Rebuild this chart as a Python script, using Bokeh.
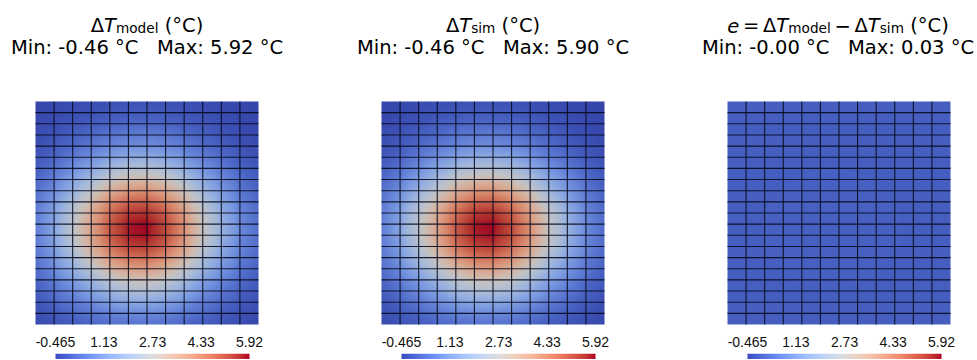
import numpy as np
from bokeh.plotting import figure
from bokeh.models import Range1d, LinearColorMapper, LinearAxis, FixedTicker
from bokeh.layouts import row, column
from bokeh.embed import file_html
from bokeh.resources import INLINE
from bokeh.core.properties import value

# ---------------- data ----------------
n_cols = 12
n_rows = 20
# normalised temperature rise at the mesh nodes, left -> right and bottom -> top
col_profile = [0.16, 0.29, 0.47, 0.67, 0.86, 0.98, 1.00, 0.90, 0.72, 0.52, 0.34, 0.20, 0.11]
row_profile = [0.13, 0.20, 0.30, 0.42, 0.55, 0.69, 0.82, 0.93, 0.99, 1.00, 0.95,
               0.85, 0.72, 0.58, 0.44, 0.32, 0.22, 0.15, 0.10, 0.06, 0.04]
model_min, model_max = -0.46, 5.92
sim_min, sim_max = -0.46, 5.90
err_min, err_max = -0.00, 0.03
cbar_low, cbar_high = -0.465, 5.92
cbar_ticks = [-0.465, 1.13, 2.73, 4.33, 5.92]
cbar_labels = ["-0.465", "1.13", "2.73", "4.33", "5.92"]

title_pieces = [
    [("Δ", "n"), ("T", "i"), ("model", "s"), (0.318, "g"), ("(°C)", "n")],
    [("Δ", "n"), ("T", "i"), ("sim", "s"), (0.318, "g"), ("(°C)", "n")],
    [("e", "i"), (0.19, "g"), ("=", "n"), (0.19, "g"), ("Δ", "n"), ("T", "i"), ("model", "s"),
     (0.19, "g"), ("−", "n"), (0.19, "g"), ("Δ", "n"), ("T", "i"), ("sim", "s"),
     (0.318, "g"), ("(°C)", "n")],
]
stats = [(model_min, model_max), (sim_min, sim_max), (err_min, err_max)]

# ---------------- fields ----------------
shape = np.outer(row_profile, col_profile)
model = model_min + (model_max - model_min) * shape
sim = sim_min + (sim_max - sim_min) * shape
err = model - sim


def shade(nodal, sx=19, sy=11):
    """Gouraud-like bilinear shading of nodal values for display."""
    nodal = np.asarray(nodal, dtype=float)
    ny, nx = nodal.shape
    u = (np.arange((nx - 1) * sx) + 0.5) / sx
    v = (np.arange((ny - 1) * sy) + 0.5) / sy
    tmp = np.array([np.interp(u, np.arange(nx), r) for r in nodal])
    out = np.array([np.interp(v, np.arange(ny), tmp[:, j]) for j in range(tmp.shape[1])]).T
    return out


# ---------------- colour map (ParaView "Cool to Warm") ----------------
COOLWARM = [
    (59, 76, 192), (68, 90, 204), (77, 104, 215), (87, 117, 225), (98, 130, 234),
    (108, 142, 241), (119, 154, 247), (130, 165, 251), (141, 176, 254), (152, 185, 255),
    (163, 194, 255), (174, 201, 253), (184, 208, 249), (194, 213, 244), (204, 217, 238),
    (213, 219, 230), (221, 221, 221), (229, 216, 209), (236, 211, 197), (241, 204, 185),
    (245, 196, 173), (247, 187, 160), (247, 177, 148), (247, 166, 135), (244, 154, 123),
    (241, 141, 111), (236, 127, 99), (229, 112, 88), (222, 96, 77), (213, 80, 66),
    (203, 62, 56), (192, 40, 47), (180, 4, 38)]


def make_palette(n=256, k=1.0):
    pts = np.linspace(0, 1, len(COOLWARM))
    arr = np.array(COOLWARM, dtype=float)
    out = []
    for t in np.linspace(0, 1, n):
        c = [min(255, max(0, int(round(np.interp(t, pts, arr[:, i]) * k)))) for i in range(3)]
        out.append("#%02x%02x%02x" % tuple(c))
    return out


heat_mapper = LinearColorMapper(palette=make_palette(256, 0.88), low=cbar_low, high=cbar_high)
bar_mapper = LinearColorMapper(palette=make_palette(256, 1.0), low=cbar_low, high=cbar_high)

# ---------------- layout constants (page pixels) ----------------
PAGE_TOP = 0
COL_EDGES = [0, 320, 666, 977]
HEAT_LEFT = [35, 381, 727]
HEAT_PX = 223
HEAT_BOTTOM = 324
FRAME_BOTTOM = 334
MAIN_H = 350
BAR_H = 9
BAR_LEFT = [55, 401, 747]
BAR_W = 194
TITLE_CX1 = [146.5, 492.5, 837.5]
TITLE_CX2 = [146.5, 492.5, 837.5]
BASE1, BASE_SUB, BASE2 = 25.0, 27.0, 46.5
FS, FS_SUB = 19.5, 13.65

EM = {' ': 0.318, '(': 0.390, ')': 0.390, '-': 0.361, '.': 0.318, ':': 0.337, '=': 0.838,
      '−': 0.838, '°': 0.500, 'C': 0.698, 'M': 0.863, 'T': 0.611, 'Δ': 0.684, 'a': 0.613,
      'd': 0.635, 'e': 0.615, 'i': 0.278, 'l': 0.278, 'm': 0.974, 'n': 0.634, 'o': 0.612,
      's': 0.521, 'x': 0.592}


def text_w(s, size):
    return sum(EM.get(ch, 0.636) for ch in s) * size


def piece_w(txt, kind):
    if kind == "g":
        return txt * FS
    return text_w(txt, FS_SUB if kind == "s" else FS)


panels = []
for k, field in enumerate([model, sim, err]):
    cl, cr = COL_EDGES[k], COL_EDGES[k + 1]
    hl = HEAT_LEFT[k]

    def dx(px, hl=hl):
        return (px - hl) / HEAT_PX

    def dy(py):
        return (HEAT_BOTTOM - py) / HEAT_PX

    p = figure(width=cr - cl, height=MAIN_H,
               x_range=Range1d(dx(cl), dx(cr)), y_range=Range1d(dy(FRAME_BOTTOM), dy(PAGE_TOP)),
               output_backend="svg", toolbar_location=None,
               x_axis_type=None, y_axis_type=None,
               min_border=0, min_border_bottom=MAIN_H - (FRAME_BOTTOM - PAGE_TOP))
    p.outline_line_color = None
    p.background_fill_color = "white"
    p.border_fill_color = "white"

    p.image(image=[shade(field)], x=0, y=0, dw=1, dh=1, color_mapper=heat_mapper)

    vx = [[i / n_cols, i / n_cols] for i in range(1, n_cols)]
    vy = [[0, 1] for _ in range(1, n_cols)]
    hx = [[0, 1] for _ in range(1, n_rows)]
    hy = [[j / n_rows, j / n_rows] for j in range(1, n_rows)]
    p.multi_line(xs=vx + hx, ys=vy + hy, line_color="#070b1e", line_alpha=0.9, line_width=1.1)

    # title line 1 (math-like pieces)
    total = sum(piece_w(t, kd) for t, kd in title_pieces[k])
    x = TITLE_CX1[k] - total / 2
    for t, kd in title_pieces[k]:
        w = piece_w(t, kd)
        if kd != "g":
            p.text(x=[dx(x)], y=[dy(BASE_SUB if kd == "s" else BASE1)], text=[t],
                   text_font=value("DejaVu Sans"),
                   text_font_size="%.2fpx" % (FS_SUB if kd == "s" else FS),
                   text_font_style="italic" if kd == "i" else "normal",
                   text_align="left", text_baseline="alphabetic", text_color="black")
        x += w

    # title line 2
    mn, mx = stats[k]
    s1 = "Min: %.2f °C" % mn
    s2 = "Max: %.2f °C" % mx
    gap = 0.954 * FS
    total = text_w(s1, FS) + gap + text_w(s2, FS)
    x = TITLE_CX2[k] - total / 2
    for s in (s1, s2):
        p.text(x=[dx(x)], y=[dy(BASE2)], text=[s], text_font=value("DejaVu Sans"),
               text_font_size="%.2fpx" % FS, text_align="left", text_baseline="alphabetic",
               text_color="black")
        x += text_w(s, FS) + gap

    # colour-bar axis (labels sit above the bar)
    bl = BAR_LEFT[k]
    scale = (cbar_high - cbar_low) / BAR_W
    v_left = cbar_low + (cl - bl) * scale
    v_right = cbar_low + (cr - bl) * scale
    p.extra_x_ranges = {"cbar": Range1d(v_left, v_right)}
    ax = LinearAxis(x_range_name="cbar", ticker=FixedTicker(ticks=cbar_ticks),
                    major_label_overrides={t: l for t, l in zip(cbar_ticks, cbar_labels)})
    ax.axis_line_color = None
    ax.major_tick_line_color = None
    ax.minor_tick_line_color = None
    ax.major_tick_in = 0
    ax.major_tick_out = 0
    ax.major_label_standoff = 2
    ax.major_label_text_font = "Liberation Sans"
    ax.major_label_text_font_size = "14px"
    ax.major_label_text_color = "#111111"
    p.add_layout(ax, "below")

    b = figure(width=cr - cl, height=BAR_H, x_range=Range1d(v_left, v_right),
               y_range=Range1d(0, 1), output_backend="svg", toolbar_location=None,
               x_axis_type=None, y_axis_type=None, min_border=0)
    b.outline_line_color = None
    b.border_fill_color = "white"
    b.background_fill_color = "white"
    grad = np.linspace(cbar_low, cbar_high, 256)[None, :]
    b.image(image=[grad], x=cbar_low, y=0, dw=cbar_high - cbar_low, dh=1, color_mapper=bar_mapper)

    panels.append(column(p, b, spacing=0))

layout = row(*panels, spacing=0)
open("out.html", "w").write(file_html(layout, INLINE))
